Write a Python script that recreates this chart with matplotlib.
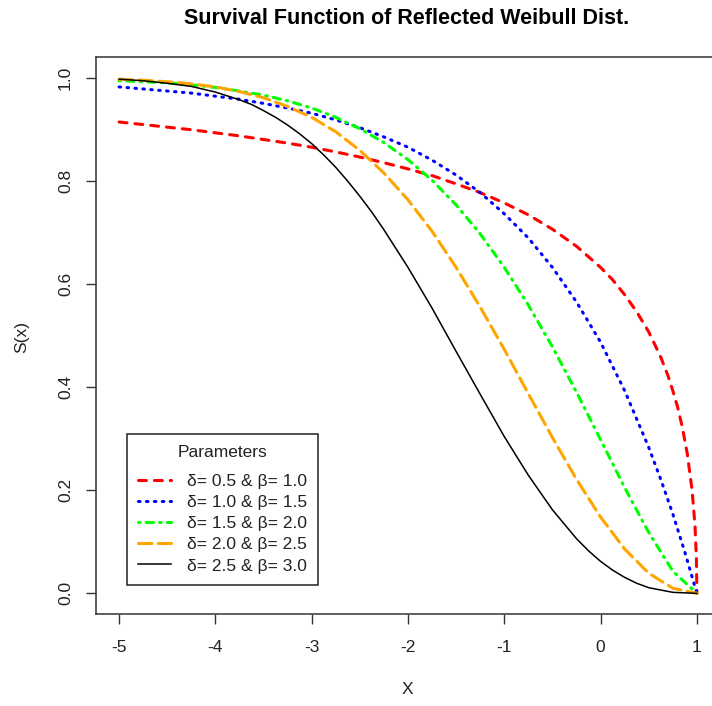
import matplotlib
matplotlib.use("Agg")
import matplotlib.pyplot as plt

plt.rcParams['font.family'] = ['Liberation Sans', 'DejaVu Sans']

# values
x_red = [-5.0, -4.75, -4.5, -4.25, -4.0, -3.75, -3.5, -3.25, -3.0, -2.75, -2.5, -2.25,
         -2.0, -1.75, -1.5, -1.25, -1.0, -0.75, -0.5, -0.25, 0.0, 0.125, 0.25, 0.375,
         0.5, 0.625, 0.7, 0.75, 0.8, 0.85, 0.9, 0.95, 0.98, 0.995, 1.0]
s_red = [0.914, 0.909, 0.904, 0.899, 0.893, 0.887, 0.880, 0.873, 0.865, 0.856, 0.846,
         0.835, 0.823, 0.810, 0.794, 0.777, 0.757, 0.734, 0.706, 0.673, 0.632, 0.608,
         0.579, 0.546, 0.507, 0.458, 0.422, 0.393, 0.361, 0.321, 0.271, 0.200, 0.132,
         0.068, 0.0]

x = [-5.0, -4.75, -4.5, -4.25, -4.0, -3.75, -3.5, -3.25, -3.0, -2.75, -2.5, -2.25,
     -2.0, -1.75, -1.5, -1.25, -1.0, -0.75, -0.5, -0.25, 0.0, 0.25, 0.5, 0.75, 1.0]

x_blue = x[:-3] + [0.5, 0.625, 0.75, 0.875, 1.0]
s_blue = [0.982, 0.978, 0.974, 0.970, 0.964, 0.958, 0.950, 0.941, 0.931, 0.918, 0.903,
          0.885, 0.865, 0.840, 0.811, 0.777, 0.736, 0.689, 0.632, 0.565, 0.487, 0.393,
          0.283, 0.221, 0.154, 0.080, 0.0]
s_green = [0.994, 0.992, 0.990, 0.986, 0.981, 0.974, 0.966, 0.955, 0.941, 0.923, 0.901,
           0.874, 0.841, 0.801, 0.753, 0.697, 0.632, 0.559, 0.478, 0.390, 0.298, 0.205,
           0.118, 0.043, 0.0]
s_orange = [0.997, 0.995, 0.992, 0.988, 0.982, 0.973, 0.961, 0.944, 0.923, 0.895, 0.859,
            0.815, 0.763, 0.702, 0.632, 0.555, 0.473, 0.387, 0.302, 0.221, 0.148, 0.086,
            0.039, 0.010, 0.0]

x_black = [-5.0, -4.75, -4.5, -4.25, -4.0, -3.75, -3.625, -3.5, -3.375, -3.25, -3.125,
           -3.0, -2.875, -2.75, -2.625, -2.5, -2.375, -2.25, -2.0, -1.75, -1.5, -1.25,
           -1.0, -0.75, -0.5, -0.25, -0.125, 0.0, 0.125, 0.25, 0.375, 0.5, 0.75, 1.0]
s_black = [0.997, 0.994, 0.989, 0.983, 0.972, 0.957, 0.948, 0.936, 0.923, 0.908, 0.891,
           0.872, 0.850, 0.826, 0.799, 0.770, 0.739, 0.705, 0.632, 0.553, 0.469, 0.386,
           0.304, 0.229, 0.162, 0.106, 0.0825, 0.062, 0.045, 0.031, 0.0196, 0.011,
           0.002, 0.0]

labels = ["δ= 0.5 & β= 1.0", "δ= 1.0 & β= 1.5", "δ= 1.5 & β= 2.0",
          "δ= 2.0 & β= 2.5", "δ= 2.5 & β= 3.0"]
x_ticks = [-5, -4, -3, -2, -1, 0, 1]
y_ticks = [0.0, 0.2, 0.4, 0.6, 0.8, 1.0]
y_ticklabels = ["0.0", "0.2", "0.4", "0.6", "0.8", "1.0"]

W, H = 712, 706
fig = plt.figure(figsize=(W / 100, H / 100), dpi=100)
L, R, T, B = 96, 720, 57, 614
ax = fig.add_axes([L / W, (H - B) / H, (R - L) / W, (B - T) / H])
ax.set_xlim(-5.24, 1.24)
ax.set_ylim(-0.04, 1.04)

lw = 2.2
ax.plot(x_red, s_red, color='red', lw=lw, dashes=(2.6, 2.6), dash_capstyle='round', label=labels[0])
ax.plot(x_blue, s_blue, color='blue', lw=lw, dashes=(0.5, 2.1), dash_capstyle='round', label=labels[1])
ax.plot(x, s_green, color='#00ff00', lw=lw, dashes=(0.5, 2.0, 2.4, 2.0), dash_capstyle='round', label=labels[2])
ax.plot(x, s_orange, color='orange', lw=lw, dashes=(4.4, 2.1), dash_capstyle='round', label=labels[3])
ax.plot(x_black, s_black, color='black', lw=1.1, label=labels[4])

for sp in ax.spines.values():
    sp.set_color('#333333')
    sp.set_linewidth(1.1)

fs = 12.5
ax.set_xticks(x_ticks)
ax.set_xticklabels([str(v) for v in x_ticks])
ax.set_yticks(y_ticks)
ax.set_yticklabels(y_ticklabels, rotation=90, va='center')
ax.tick_params(direction='out', length=7.5, width=1.0, color='#333333',
               labelsize=fs, labelcolor='#222222')
ax.tick_params(axis='x', pad=11)
ax.tick_params(axis='y', pad=9)

fig.text(407 / W, 1 - 690 / H, "X", ha='center', va='center', fontsize=fs, color='#222222')
fig.text(22 / W, 1 - 337 / H, "S(x)", ha='center', va='center', rotation=90, fontsize=fs, color='#222222')
fig.text(407 / W, 1 - 18 / H, "Survival Function of Reflected Weibull Dist.",
         ha='center', va='center', fontsize=15.5, fontweight='bold')

leg = ax.legend(loc='upper left', bbox_to_anchor=((127 - L) / (R - L), (B - 434) / (B - T)),
                borderaxespad=0, title='Parameters', fontsize=fs, title_fontsize=fs,
                frameon=True, fancybox=False, framealpha=1, edgecolor='#222222',
                handlelength=1.9, handletextpad=0.9, labelspacing=0.35, borderpad=0.65)
leg.get_frame().set_linewidth(1.1)
try:
    leg._legend_box.sep = 9.5
except Exception:
    pass
for t in leg.get_texts():
    t.set_color('#222222')
leg.get_title().set_color('#222222')

fig.savefig("out.png", dpi=100)
